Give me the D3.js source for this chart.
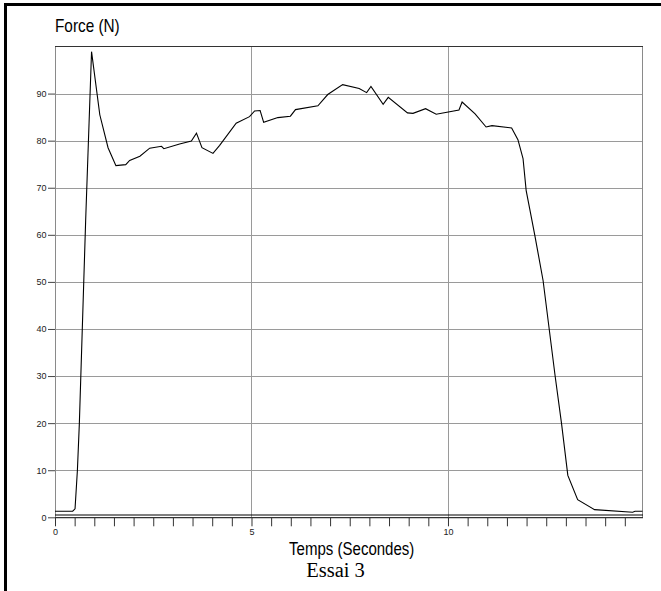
<!DOCTYPE html>
<html>
<head>
<meta charset="utf-8">
<script src="https://cdn.jsdelivr.net/npm/d3@7"></script>
<style>
  body { margin: 0; background: #fff; }
  svg { display: block; }
</style>
</head>
<body>
<div id="chart"></div>
<script>
// values (Essai 3)
const temps = [0, 0.45, 0.51, 0.57, 0.62, 0.78, 0.93, 1.14, 1.35, 1.55, 1.80, 1.90, 2.16, 2.41, 2.71, 2.77,
  3.17, 3.47, 3.60, 3.74, 4.02, 4.19, 4.61, 4.95, 5.08, 5.22, 5.31, 5.67, 5.99, 6.12, 6.69, 6.94,
  7.32, 7.74, 7.93, 8.04, 8.35, 8.48, 8.97, 9.11, 9.43, 9.70, 10.28, 10.36, 10.69, 10.97, 11.12,
  11.62, 11.78, 11.91, 11.99, 12.08, 12.21, 12.42, 12.73, 12.89, 13.05, 13.30, 13.73, 14.70, 14.76, 14.95];
const force = [1.3, 1.3, 1.8, 10, 20, 63, 98.9, 85.5, 78.5, 74.7, 74.9, 75.8, 76.7, 78.4, 78.8, 78.3,
  79.3, 79.9, 81.6, 78.5, 77.3, 79, 83.7, 85.1, 86.3, 86.4, 83.9, 84.9, 85.2, 86.6, 87.4, 89.8,
  91.9, 91.1, 90.2, 91.5, 87.7, 89.2, 85.9, 85.8, 86.8, 85.6, 86.5, 88.2, 85.7, 82.9, 83.2,
  82.7, 80.2, 76.2, 69.4, 65.5, 59.9, 50.3, 29.8, 19.9, 8.9, 3.75, 1.63, 1.06, 1.27, 1.27];
const yTicks = [0, 10, 20, 30, 40, 50, 60, 70, 80, 90];
const xLabels = [0, 5, 10];
const xGrid = [5, 10];

const width = 661, height = 591;
const svg = d3.select("#chart").append("svg")
  .attr("width", width)
  .attr("height", height);

// outer frame (only top and left are visible)
svg.append("line").attr("x1", 4).attr("x2", width).attr("y1", 4.5).attr("y2", 4.5)
  .attr("stroke", "#000").attr("stroke-width", 3);
svg.append("line").attr("x1", 5.5).attr("x2", 5.5).attr("y1", 3).attr("y2", height)
  .attr("stroke", "#000").attr("stroke-width", 3);

const x = d3.scaleLinear().domain([0, 14.95]).range([55, 642.5]);
const y = d3.scaleLinear().domain([0, 100]).range([517.3, 46.5]);

// grid
svg.append("g").selectAll("line")
  .data(yTicks.filter(d => d > 0))
  .join("line")
  .attr("x1", x(0)).attr("x2", x(14.95))
  .attr("y1", d => Math.round(y(d)) + 0.5).attr("y2", d => Math.round(y(d)) + 0.5)
  .attr("stroke", "#9a9a9a");
svg.append("g").selectAll("line")
  .data(xGrid)
  .join("line")
  .attr("x1", d => Math.round(x(d)) + 0.5).attr("x2", d => Math.round(x(d)) + 0.5)
  .attr("y1", y(100)).attr("y2", y(0))
  .attr("stroke", "#9a9a9a");

// plot frame
svg.append("line").attr("x1", 55.5).attr("x2", 55.5).attr("y1", 46.5).attr("y2", 517)
  .attr("stroke", "#8a8a8a");
svg.append("line").attr("x1", 642.5).attr("x2", 642.5).attr("y1", 46.5).attr("y2", 517)
  .attr("stroke", "#8a8a8a");
svg.append("line").attr("x1", 55).attr("x2", 643).attr("y1", 46.5).attr("y2", 46.5)
  .attr("stroke", "#333");

// y axis ticks + labels
const yAxis = svg.append("g")
  .attr("transform", "translate(55,0)")
  .call(d3.axisLeft(y).tickValues(yTicks).tickSize(7).tickPadding(1.5));
yAxis.select(".domain").remove();
yAxis.selectAll("line").attr("stroke", "#444");
yAxis.selectAll("text")
  .attr("font-family", "'Liberation Sans', Arial, sans-serif")
  .attr("font-size", 9).attr("fill", "#222");

// x axis (double line + ticks every 0.5 s)
svg.append("line").attr("x1", 55).attr("x2", 643).attr("y1", 515).attr("y2", 515)
  .attr("stroke", "#000").attr("stroke-width", 1.2);
svg.append("line").attr("x1", 55).attr("x2", 643).attr("y1", 517.7).attr("y2", 517.7)
  .attr("stroke", "#333").attr("stroke-width", 1.2);
const xAxis = svg.append("g")
  .attr("transform", "translate(0,517.3)")
  .call(d3.axisBottom(x)
    .tickValues(d3.range(0, 14.6, 0.5))
    .tickSize(9).tickPadding(2)
    .tickFormat(d => xLabels.includes(d) ? d : ""));
xAxis.select(".domain").remove();
xAxis.selectAll("line").attr("stroke", "#333");
xAxis.selectAll("text")
  .attr("font-family", "'Liberation Sans', Arial, sans-serif")
  .attr("font-size", 9).attr("fill", "#222");

// the force curve
const line = d3.line()
  .x((d, i) => x(temps[i]))
  .y(d => y(d));
svg.append("path")
  .datum(force)
  .attr("d", line)
  .attr("fill", "none")
  .attr("stroke", "#000")
  .attr("stroke-width", 1.1);

// titles (narrow sans in the reference, so squeeze horizontally)
svg.append("text")
  .attr("transform", "translate(55,31.7) scale(0.867,1)")
  .attr("font-family", "'Liberation Sans', Arial, sans-serif")
  .attr("font-size", 17.7)
  .text("Force (N)");
svg.append("text")
  .attr("transform", "translate(351.7,555) scale(0.85,1)")
  .attr("text-anchor", "middle")
  .attr("font-family", "'Liberation Sans', Arial, sans-serif")
  .attr("font-size", 17.7)
  .text("Temps (Secondes)");
svg.append("text")
  .attr("x", 335.5).attr("y", 576.7)
  .attr("text-anchor", "middle")
  .attr("font-family", "'Liberation Serif', 'Times New Roman', serif")
  .attr("font-size", 20.5)
  .text("Essai 3");
</script>
</body>
</html>
